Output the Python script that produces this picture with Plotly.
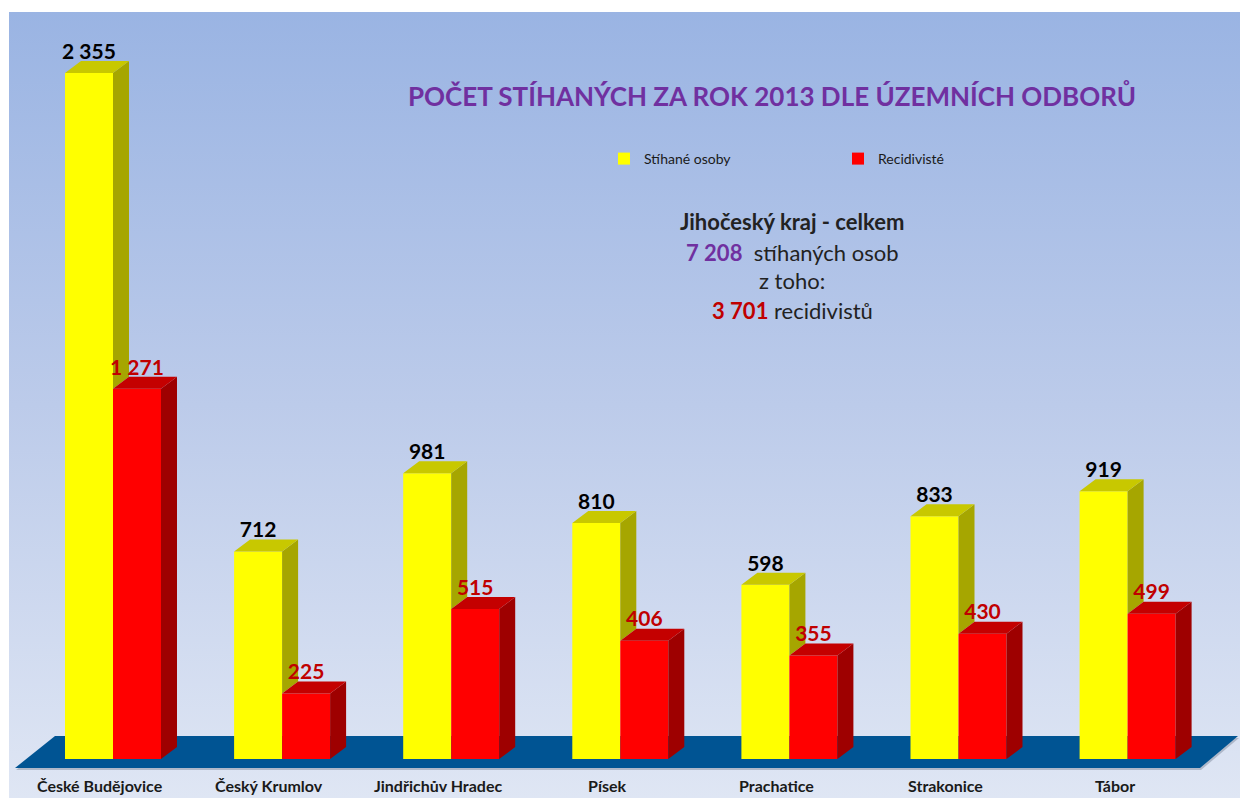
import base64
import plotly.graph_objects as go

# ---------------- data ----------------
categories = ["České Budějovice", "Český Krumlov", "Jindřichův Hradec", "Písek",
              "Prachatice", "Strakonice", "Tábor"]
stihane = [2355, 712, 981, 810, 598, 833, 919]
recidiviste = [1271, 225, 515, 406, 355, 430, 499]
series_names = ["Stíhané osoby", "Recidivisté"]
total_stihane = 7208
total_recid = 3701
title_text = "POČET STÍHANÝCH ZA ROK 2013 DLE ÚZEMNÍCH ODBORŮ"

# ---------------- layout helpers ----------------
W, H = 1240, 798
X0_PX, X_STEP = 113, 169.1      # pixel of category 0 centre, pixels per category
Y0_PX, Y_SCALE = 759, 0.2913    # pixel of value 0, pixels per unit


def xd(px):
    return (px - X0_PX) / X_STEP


def yd(py):
    return (Y0_PX - py) / Y_SCALE


BAR_W = 48 / X_STEP
DX = 16 / X_STEP
DY = 12 / Y_SCALE
FONT = "Lato"


def fmt(v):
    return f"{v:,}".replace(",", " ")


def poly(pts_list):
    xs, ys = [], []
    for pts in pts_list:
        for px, py in pts:
            xs.append(px)
            ys.append(py)
        xs.append(pts[0][0])
        ys.append(pts[0][1])
        xs.append(None)
        ys.append(None)
    return xs, ys


fig = go.Figure()

xs = list(range(len(categories)))

# front faces (bar traces)
fig.add_trace(go.Bar(x=xs, y=stihane, width=BAR_W, offset=-BAR_W, name=series_names[0],
                     marker=dict(color="#FFFF00", line=dict(width=0))))
fig.add_trace(go.Bar(x=xs, y=recidiviste, width=BAR_W, offset=0, name=series_names[1],
                     marker=dict(color="#FF0000", line=dict(width=0))))

# 3-D top and side faces computed from the same values
y_tops, y_sides, r_tops, r_sides = [], [], [], []
for i, (yv, rv) in enumerate(zip(stihane, recidiviste)):
    ax0, ax1 = i - BAR_W, i
    bx0, bx1 = i, i + BAR_W
    y_tops.append([(ax0, yv), (ax1, yv), (ax1 + DX, yv + DY), (ax0 + DX, yv + DY)])
    low = min(rv, yv)
    y_sides.append([(ax1, low), (ax1 + DX, low + DY), (ax1 + DX, yv + DY), (ax1, yv)])
    r_tops.append([(bx0, rv), (bx1, rv), (bx1 + DX, rv + DY), (bx0 + DX, rv + DY)])
    r_sides.append([(bx1, 0), (bx1 + DX, DY), (bx1 + DX, rv + DY), (bx1, rv)])

for pts, col in [(y_sides, "#A6A600"), (y_tops, "#C8C800"),
                 (r_sides, "#9E0000"), (r_tops, "#C40000")]:
    px_, py_ = poly(pts)
    fig.add_trace(go.Scatter(x=px_, y=py_, mode="lines", fill="toself",
                             line=dict(width=0), fillcolor=col,
                             hoverinfo="skip", showlegend=False))

# value labels
LBL_SHIFT = 3 / Y_SCALE
for vals, off, ctext in [(stihane, -BAR_W / 2, "#000000"), (recidiviste, BAR_W / 2, "#C00000")]:
    fig.add_trace(go.Scatter(
        x=[i + off for i in xs], y=[v + DY - LBL_SHIFT for v in vals],
        text=[fmt(v) for v in vals], mode="text", textposition="top center",
        textfont=dict(family=FONT, size=21, color=ctext, weight="bold"),
        hoverinfo="skip", showlegend=False))

annotations = []
for i, c in enumerate(categories):
    annotations.append(dict(
        x=i - 13 / X_STEP, y=yd(785), xref="x", yref="y", text=c, showarrow=False,
        xanchor="center", yanchor="middle", borderpad=0,
        font=dict(family=FONT, size=16, color="#1A1A1A", weight="bold")))

annotations.append(dict(
    x=772 / W, y=1 - 95 / H, xref="paper", yref="paper", text=title_text,
    showarrow=False, xanchor="center", yanchor="middle",
    font=dict(family=FONT, size=26, color="#7030A0", weight="bold")))

summary = [
    ("<b>Jihočeský kraj - celkem</b>", 221),
    (f"<b><span style='color:#7030A0'>{fmt(total_stihane)}</span></b>&nbsp; stíhaných osob", 252),
    ("z toho:", 280),
    (f"<b><span style='color:#C00000'>{fmt(total_recid)}</span></b> recidivistů", 310),
]
for txt, py in summary:
    annotations.append(dict(
        x=792 / W, y=1 - py / H, xref="paper", yref="paper", text=txt,
        showarrow=False, xanchor="center", yanchor="middle",
        font=dict(family=FONT, size=22, color="#222222")))

# background gradient (svg image) and floor (shapes) below all traces
svg = ('<svg xmlns="http://www.w3.org/2000/svg" width="400" height="400" preserveAspectRatio="none">'
       '<defs><linearGradient id="g" x1="0" y1="0" x2="0" y2="1">'
       '<stop offset="0" stop-color="#9AB4E3"/><stop offset="0.5" stop-color="#BCCBEA"/>'
       '<stop offset="1" stop-color="#DFE6F4"/></linearGradient></defs>'
       '<rect x="0" y="0" width="400" height="400" fill="url(#g)"/></svg>')
svg_uri = "data:image/svg+xml;base64," + base64.b64encode(svg.encode()).decode()


def path(points):
    return "M " + " L ".join(f"{x},{y}" for x, y in points) + " Z"


floor_shadow = [(xd(16), yd(770)), (xd(1201), yd(770)), (xd(1239), yd(738)), (xd(56), yd(738))]
floor = [(xd(15), yd(768)), (xd(1200), yd(768)), (xd(1238), yd(736)), (xd(55), yd(736))]

fig.update_layout(
    width=W, height=H,
    margin=dict(l=0, r=0, t=0, b=0),
    paper_bgcolor="white", plot_bgcolor="rgba(0,0,0,0)",
    barmode="overlay",
    xaxis=dict(range=[xd(0), xd(W)], visible=False, fixedrange=True),
    yaxis=dict(range=[yd(H), yd(0)], visible=False, fixedrange=True),
    images=[dict(source=svg_uri, xref="paper", yref="paper", x=9 / W, y=1 - 12 / H,
                 sizex=(W - 9) / W, sizey=(H - 12) / H, sizing="stretch",
                 xanchor="left", yanchor="top", layer="below")],
    shapes=[
        dict(type="path", xref="x", yref="y", path=path(floor_shadow),
             fillcolor="rgba(120,130,150,0.45)", line=dict(width=0), layer="below"),
        dict(type="path", xref="x", yref="y", path=path(floor),
             fillcolor="#005493", line=dict(width=0), layer="below"),
    ],
    showlegend=True,
    legend=dict(orientation="h", x=604 / W, y=1 - 143 / H, xanchor="left", yanchor="top",
                bgcolor="rgba(0,0,0,0)", font=dict(family=FONT, size=14, color="#1A1A1A"),
                entrywidth=189, entrywidthmode="pixels", itemwidth=30),
    annotations=annotations,
)

fig.write_html("out.html", config={"displayModeBar": False},
               post_script="document.body.style.margin='0px';document.body.style.overflow='hidden';")
